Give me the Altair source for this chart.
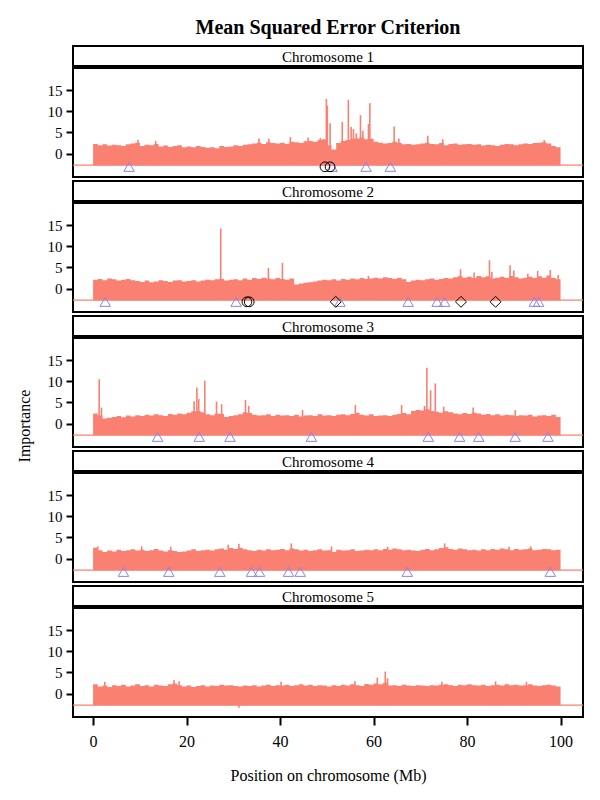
import altair as alt
import pandas as pd

# ---------------- data ----------------
POS = list(range(101))  # Mb, start of each 1-Mb step (last one closes the area)

CHR1 = [2.3, 2.0, 2.2, 1.9, 2.1, 2.0, 1.8, 2.2, 2.4, 2.6,
        1.8, 2.1, 2.0, 2.3, 1.7, 1.9, 1.6, 1.8, 2.0, 1.5,
        1.7, 1.5, 1.8, 1.6, 1.4, 1.5, 1.3, 1.8, 1.6, 1.7,
        2.0, 1.8, 2.1, 2.2, 2.4, 2.6, 2.3, 2.7, 2.5, 2.4,
        2.6, 2.3, 2.8, 2.7, 2.5, 2.9, 3.0, 2.8, 3.2, 3.4,
        2.0, 1.0, 2.5, 3.0, 3.2, 3.5, 3.6, 3.8, 3.4, 3.5,
        2.8, 2.6, 2.4, 2.5, 2.8, 2.6, 2.2, 2.3, 2.1, 2.2,
        2.4, 2.6, 2.3, 2.2, 2.5, 2.0, 2.3, 2.4, 2.1, 2.2,
        2.3, 2.1, 2.2, 1.9, 2.1, 2.0, 1.8, 2.1, 2.3, 2.2,
        2.0, 2.2, 2.4, 2.3, 2.5, 2.6, 2.7, 2.4, 1.8, 1.5]
CHR2 = [2.1, 2.3, 2.0, 2.4, 2.2, 1.9, 2.1, 2.3, 2.0, 1.8,
        1.6, 1.9, 1.5, 1.7, 2.0, 1.8, 1.6, 1.9, 2.0, 1.7,
        1.8, 2.0, 1.7, 1.9, 2.1, 2.0, 2.2, 2.3, 1.9, 2.1,
        2.2, 2.0, 2.4, 2.1, 2.5, 2.3, 2.6, 2.4, 2.2, 2.5,
        2.3, 2.1, 2.4, 1.0, 1.2, 1.4, 1.5, 1.7, 1.9, 2.1,
        2.0, 2.2, 1.9, 2.3, 2.1, 2.4, 2.2, 2.5, 2.3, 2.4,
        2.6, 2.4, 2.7, 2.5, 2.3, 2.6, 2.2, 1.6, 1.9, 2.1,
        2.0, 2.2, 2.4, 2.1, 2.3, 2.5, 2.4, 2.7, 2.9, 2.6,
        2.8, 2.5, 3.0, 2.7, 2.9, 2.4, 2.6, 2.8, 2.5, 3.0,
        2.7, 2.4, 2.6, 2.8, 2.5, 2.9, 2.6, 3.1, 2.5, 2.2]
CHR3 = [2.4, 1.9, 1.2, 1.4, 1.6, 1.8, 1.5, 1.9, 1.7, 2.0,
        1.8, 2.1, 1.9, 2.2, 2.0, 1.8, 2.3, 2.1, 2.4, 2.2,
        2.6, 2.9, 3.0, 2.7, 2.2, 2.0, 2.4, 2.3, 1.6, 1.8,
        2.0, 2.2, 2.7, 2.5, 2.1, 1.9, 2.0, 2.2, 1.8, 2.1,
        1.9, 2.0, 1.8, 2.1, 1.7, 1.9, 2.0, 1.8, 2.2, 1.9,
        2.0, 1.8, 2.1, 2.2, 2.0, 2.3, 2.6, 2.1, 1.9, 2.2,
        1.8, 1.9, 2.0, 1.8, 2.1, 2.3, 2.5, 2.2, 3.0, 3.2,
        3.1, 3.4, 3.0, 2.8, 2.6, 2.9, 2.7, 2.4, 2.2, 2.5,
        2.3, 2.6, 2.4, 2.1, 2.3, 2.0, 2.2, 1.9, 2.1, 2.0,
        1.8, 2.0, 1.9, 2.1, 1.7, 1.9, 2.0, 1.8, 2.1, 1.6]
CHR4 = [2.6, 2.0, 1.6, 1.9, 1.7, 2.1, 1.8, 2.0, 2.2, 1.9,
        2.1, 1.8, 2.0, 2.3, 1.9, 1.7, 2.0, 1.8, 1.6, 1.7,
        1.9, 2.2, 1.8, 2.0, 2.1, 1.9, 2.2, 2.4, 2.1, 2.5,
        2.3, 2.6, 2.2, 2.0, 1.8, 2.1, 1.9, 2.2, 2.0, 2.1,
        2.3, 2.0, 2.4, 2.2, 1.9, 2.1, 1.8, 2.0, 2.2, 1.9,
        2.0, 1.6, 2.1, 1.9, 2.0, 2.2, 1.8, 1.9, 2.1, 2.0,
        2.2, 2.0, 2.3, 2.1, 2.4, 2.2, 2.0, 2.1, 1.9, 1.8,
        2.1, 2.3, 2.0, 2.2, 2.5, 2.7, 2.3, 2.1, 2.4, 2.2,
        2.0, 2.1, 1.9, 2.2, 2.0, 2.3, 2.1, 2.4, 2.2, 2.0,
        2.3, 2.1, 2.2, 2.4, 2.0, 2.1, 2.3, 2.2, 2.0, 2.1]
CHR5 = [2.2, 1.7, 1.9, 1.6, 2.0, 1.8, 2.1, 1.7, 1.9, 2.2,
        1.8, 2.0, 1.7, 2.1, 1.9, 1.8, 2.2, 2.4, 2.0, 1.7,
        1.9, 1.6, 1.8, 2.0, 1.7, 1.9, 1.8, 2.1, 1.9, 2.0,
        1.8, 1.7, 1.9, 1.8, 2.0, 1.7, 1.9, 2.1, 1.8, 2.0,
        1.9, 2.1, 1.8, 2.0, 2.2, 1.9, 2.1, 1.8, 2.0, 1.9,
        1.7, 2.0, 1.8, 2.1, 1.9, 2.2, 2.0, 1.8, 2.3, 2.1,
        2.4, 2.2, 2.6, 1.9, 2.0, 1.8, 2.1, 1.9, 1.8, 2.0,
        1.9, 1.8, 2.0, 1.9, 2.1, 2.2, 2.0, 1.8, 2.1, 2.0,
        2.2, 2.0, 1.9, 2.1, 1.8, 2.0, 2.1, 1.9, 2.2, 2.0,
        2.1, 1.9, 2.0, 2.2, 1.9, 1.8, 2.0, 2.1, 1.9, 1.7]

SPIKE_POS = [
    [9.6, 13.4, 35.5, 37.6, 42.2, 46.0, 48.6, 49.9, 50.1, 50.7, 53.3, 54.6, 55.2,
     55.7, 56.3, 57.2, 57.7, 58.9, 59.2, 64.4, 65.4, 71.6, 74.8, 96.5],
    [27.3, 37.5, 40.5, 58.9, 78.6, 81.5, 84.8, 85.3, 89.2, 90.0, 93.0, 95.1, 97.8, 99.5],
    [1.3, 1.8, 21.6, 22.2, 22.6, 23.9, 26.4, 27.5, 32.6, 33.3, 44.8, 56.1, 66.0,
     70.9, 71.4, 72.2, 73.2, 75.0, 81.3, 90.3],
    [1.0, 10.4, 16.6, 28.9, 31.2, 42.4, 51.0, 63.0, 75.2, 89.0, 93.6],
    [2.5, 17.3, 18.4, 31.2, 40.2, 56.0, 60.8, 62.5, 63.0, 74.6, 86.1, 92.7],
]
SPIKE_VAL = [
    [3.3, 3.0, 3.6, 3.5, 3.9, 3.8, 3.7, 12.9, 11.3, 7.2, 7.5, 12.7, 6.3,
     5.8, 4.8, 9.1, 5.4, 7.0, 11.9, 6.4, 3.6, 4.2, 3.4, 3.2],
    [14.2, 4.9, 6.1, 3.0, 4.6, 3.8, 6.7, 4.0, 5.5, 4.3, 3.5, 4.2, 4.4, 3.2],
    [10.5, 3.8, 5.3, 8.5, 5.8, 10.1, 5.2, 4.6, 5.6, 4.2, 3.2, 4.4, 4.4,
     4.2, 13.2, 7.9, 9.5, 4.0, 3.8, 3.2],
    [2.9, 2.9, 2.8, 3.3, 3.5, 3.6, 2.9, 2.8, 3.6, 2.8, 2.9],
    [2.8, 3.2, 2.9, -3.3, 2.8, 2.9, 3.8, 5.2, 3.6, 2.8, 2.9, 2.8],
]
TRIANGLES = [
    [7.7, 51.1, 58.4, 63.6],
    [2.6, 30.6, 52.8, 67.4, 73.6, 75.2, 94.4, 95.3],
    [13.8, 22.7, 29.3, 46.7, 71.7, 78.4, 82.5, 90.3, 97.3],
    [6.5, 16.2, 27.1, 33.9, 35.6, 41.8, 44.3, 67.2, 97.8],
    [],
]
CIRCLES = [[49.6, 50.7], [32.9, 33.4], [], [], []]
DIAMONDS = [[], [51.9, 78.7, 86.1], [], [], []]
CHROMS = [CHR1, CHR2, CHR3, CHR4, CHR5]
LABELS = ["Chromosome 1", "Chromosome 2", "Chromosome 3", "Chromosome 4", "Chromosome 5"]
Y_TICKS = [0, 5, 10, 15]
X_TICKS = [0, 20, 40, 60, 80, 100]
BASE = -2.7
MARK_Y = -3.1

# ---------------- style ----------------
FONT = "Liberation Serif"
SALMON = "#FA8072"
TRI_COLOR = "#8C84EC"
W, H_PLOT, H_STRIP = 510, 109, 20

xscale = alt.Scale(domain=[-4.3, 104.8], nice=False, zero=False)
yscale = alt.Scale(domain=[-5.5, 20.2], nice=False, zero=False)


def panel(i):
    last = (i == 4)
    xaxis = alt.Axis(values=X_TICKS, tickSize=8, tickWidth=2, labelFontSize=16,
                     labelPadding=8, title="Position on chromosome (Mb)",
                     titleFontSize=16, titleFontWeight="normal", titlePadding=18,
                     format="d") if last else None
    yaxis = alt.Axis(values=Y_TICKS, tickSize=7, tickWidth=2, labelFontSize=15,
                     labelPadding=4, title=None)
    X = alt.X("pos:Q", scale=xscale, axis=xaxis)
    Y = alt.Y("val:Q", scale=yscale, axis=yaxis)

    vals = CHROMS[i]
    area_df = pd.DataFrame({"pos": POS, "val": vals + [vals[-1]], "base": BASE})
    spike_df = pd.DataFrame({"pos": SPIKE_POS[i], "val": SPIKE_VAL[i], "base": BASE})
    base_df = pd.DataFrame({"val": [BASE]})

    layers = [
        alt.Chart(base_df).mark_rule(color=SALMON, strokeWidth=1.3).encode(y=Y),
        alt.Chart(area_df).mark_area(interpolate="step-after", color=SALMON, opacity=1)
        .encode(x=X, y=Y, y2="base:Q"),
        alt.Chart(spike_df).mark_rule(color=SALMON, strokeWidth=1.6)
        .encode(x=X, y=Y, y2="base:Q"),
    ]
    if TRIANGLES[i]:
        tdf = pd.DataFrame({"pos": TRIANGLES[i], "val": MARK_Y})
        layers.append(alt.Chart(tdf).mark_point(shape="triangle-up", filled=False,
                      color=TRI_COLOR, size=110, strokeWidth=1, opacity=1)
                      .encode(x=X, y=Y))
    if CIRCLES[i]:
        cdf = pd.DataFrame({"pos": CIRCLES[i], "val": MARK_Y})
        layers.append(alt.Chart(cdf).mark_point(shape="circle", filled=False,
                      color="black", size=95, strokeWidth=1, opacity=1)
                      .encode(x=X, y=Y))
    if DIAMONDS[i]:
        ddf = pd.DataFrame({"pos": DIAMONDS[i], "val": MARK_Y})
        layers.append(alt.Chart(ddf).mark_point(shape="diamond", filled=False,
                      color="black", size=120, strokeWidth=1, opacity=1)
                      .encode(x=X, y=Y))
    plot = alt.layer(*layers).properties(width=W, height=H_PLOT)

    strip = alt.Chart(pd.DataFrame({"t": [LABELS[i]]})).mark_text(
        font=FONT, fontSize=15, color="black", baseline="middle", align="center"
    ).encode(text="t:N", x=alt.value(W / 2), y=alt.value(H_STRIP / 2 + 1)).properties(
        width=W, height=H_STRIP)
    if i == 0:
        strip = strip.properties(title=alt.TitleParams(
            text="Mean Squared Error Criterion", font=FONT, fontSize=20,
            fontWeight="bold", anchor="middle", frame="group", offset=8, color="black"))
    return alt.vconcat(strip, plot, spacing=0)


panels = alt.vconcat(*[panel(i) for i in range(5)], spacing=2)

ytitle = alt.Chart(pd.DataFrame({"t": ["Importance"]})).mark_text(
    font=FONT, fontSize=16, color="black", angle=270, baseline="middle", align="center"
).encode(text="t:N", x=alt.value(12), y=alt.value(380)).properties(
    width=16, height=500, view=alt.ViewBackground(strokeOpacity=0))

chart = alt.hconcat(ytitle, panels, spacing=13).properties(
    padding={"left": 5, "top": 9, "right": 5, "bottom": 5}
).configure_view(stroke="black", strokeWidth=2).configure_axis(
    labelFont=FONT, titleFont=FONT, labelColor="black", titleColor="black",
    tickColor="black", grid=False, domain=False
)

chart.save("out.html", embed_options={"renderer": "svg", "actions": False})
